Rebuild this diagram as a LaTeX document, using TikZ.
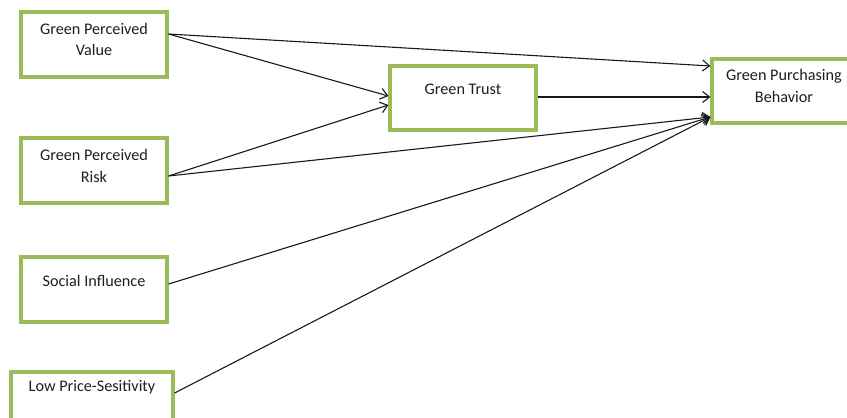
\documentclass[tikz,border=0pt]{standalone}
\usepackage{fontspec}
\setmainfont{Carlito}
\usetikzlibrary{arrows.meta}
\definecolor{boxgreen}{HTML}{9BBB59}
\definecolor{txt}{HTML}{1F1F1F}
\tikzset{
  varbox/.style={draw=boxgreen, line width=3.2pt, fill=white, rectangle, inner sep=0pt},
  vartext/.style={align=center, text=txt, font=\fontsize{16.2}{21.5}\selectfont, inner sep=0pt},
  link/.style={draw=black!90, line width=1.1pt, -{Straight Barb[length=7pt,width=11pt,line width=1.1pt]}}
}
\begin{document}
\begin{tikzpicture}[x=1pt,y=-1pt]
\useasboundingbox (0,0) rectangle (847,418);
\clip (0,0) rectangle (847,418);
% boxes
\node[varbox, minimum width=146pt, minimum height=65pt] (gpv) at (94,44.5) {};
\node[varbox, minimum width=146pt, minimum height=65pt] (gpr) at (94,170.5) {};
\node[varbox, minimum width=146pt, minimum height=65pt] (si) at (94,289.5) {};
\node[varbox, minimum width=162pt, minimum height=65pt] (lps) at (92,404.5) {};
\node[varbox, minimum width=146pt, minimum height=64pt] (gt) at (463,98) {};
\node[varbox, minimum width=144pt, minimum height=64pt] (gpb) at (784,91) {};
% texts
\node[vartext] (gpvt) at (94,39.5) {Green Perceived\\Value};
\node[vartext] (gprt) at (94,166) {Green Perceived\\Risk};
\node[vartext] (sit) at (94,281) {Social Influence};
\node[vartext] (lpst) at (92,387) {Low Price-Sesitivity};
\node[vartext] (gtt) at (463,89) {Green Trust};
\node[vartext] (gpbt) at (784,86) {Green Purchasing\\Behavior};
% connectors
\draw[link] ([yshift=10.5pt]gpv.east) -- ([yshift=25pt]gpb.west);
\draw[link] ([yshift=10.5pt]gpv.east) -- ([yshift=2pt]gt.west);
\draw[link] ([yshift=-5.5pt]gpr.east) -- ([yshift=-7pt]gt.west);
\draw[link] ([yshift=-5.5pt]gpr.east) -- ([yshift=-26pt]gpb.west);
\draw[link] ([yshift=1pt]gt.east) -- ([yshift=-6pt]gpb.west);
\draw[link] ([yshift=5.5pt]si.east) -- ([yshift=-26pt]gpb.west);
\draw[link] ([yshift=11.5pt]lps.east) -- ([yshift=-26pt]gpb.west);
\end{tikzpicture}
\end{document}
